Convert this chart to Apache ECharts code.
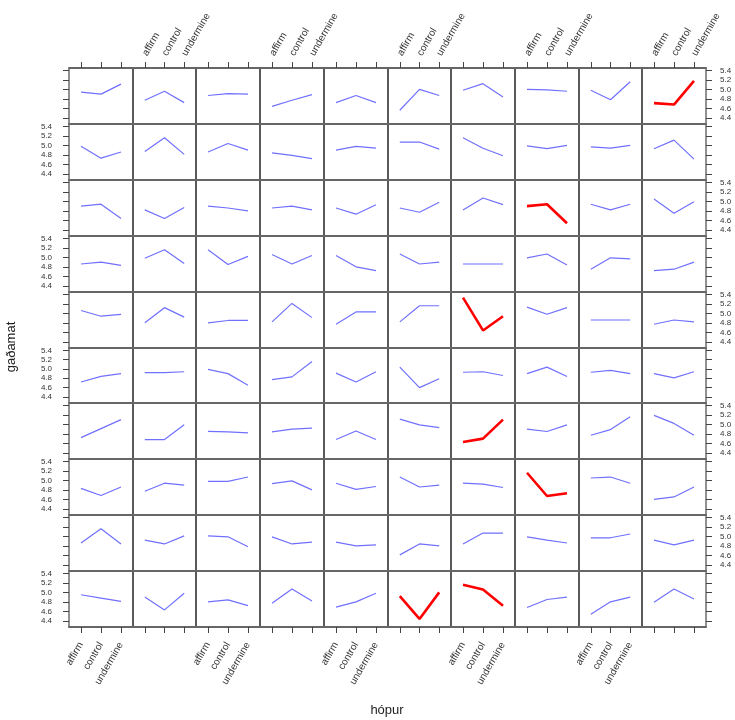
<!DOCTYPE html>
<html><head><meta charset="utf-8">
<script src="https://cdn.jsdelivr.net/npm/echarts@6/dist/echarts.min.js"></script>
<style>html,body{margin:0;padding:0;background:#fff}#c{width:735px;height:720px}</style>
</head><body><div id="c"></div>
<script>
const categories = ['affirm', 'control', 'undermine'];
const yTicks = [4.4, 4.6, 4.8, 5.0, 5.2, 5.4];
const xTitle = 'hópur';
const yTitle = 'gaðamat';

// Panels in display order, top row first; each panel = [affirm, control, undermine]
const row1 = [[4.94,4.90,5.11],[4.77,4.96,4.72],[4.87,4.91,4.90],[4.64,4.77,4.89],[4.72,4.87,4.72],[4.56,5.00,4.87],[4.98,5.12,4.84],[5.00,4.99,4.96],[4.98,4.78,5.16],[4.71,4.68,5.18]];
const row2 = [[4.98,4.73,4.86],[4.87,5.16,4.81],[4.86,5.04,4.90],[4.84,4.79,4.72],[4.90,4.98,4.94],[5.07,5.07,4.92],[5.16,4.94,4.78],[4.99,4.93,5.00],[4.97,4.94,5.00],[4.93,5.11,4.71]];
const row3 = [[4.90,4.94,4.64],[4.82,4.64,4.87],[4.90,4.86,4.80],[4.86,4.90,4.82],[4.86,4.73,4.93],[4.86,4.77,4.98],[4.82,5.07,4.93],[4.90,4.94,4.54],[4.94,4.82,4.94],[5.05,4.75,4.99]];
const row4 = [[4.86,4.90,4.83],[4.98,5.16,4.87],[5.16,4.85,5.02],[5.06,4.86,5.04],[5.04,4.80,4.72],[5.07,4.86,4.90],[4.86,4.86,4.86],[4.99,5.07,4.84],[4.75,4.99,4.97],[4.72,4.75,4.90]];
const row5 = [[5.06,4.94,4.98],[4.80,5.12,4.92],[4.80,4.85,4.85],[4.82,5.21,4.91],[4.77,5.03,5.03],[4.82,5.16,5.16],[5.33,4.64,4.94],[5.13,4.98,5.12],[4.86,4.86,4.86],[4.77,4.86,4.82]];
const row6 = [[4.72,4.84,4.90],[4.92,4.92,4.94],[4.99,4.90,4.65],[4.77,4.83,5.16],[4.91,4.72,4.94],[5.04,4.60,4.79],[4.93,4.94,4.86],[4.90,5.04,4.84],[4.93,4.97,4.90],[4.90,4.81,4.94]];
const row7 = [[4.72,4.91,5.10],[4.68,4.68,4.99],[4.85,4.84,4.82],[4.84,4.90,4.92],[4.68,4.86,4.68],[5.11,4.99,4.93],[4.63,4.70,5.10],[4.90,4.85,4.99],[4.77,4.89,5.16],[5.19,5.02,4.77]];
const row8 = [[4.83,4.68,4.86],[4.77,4.94,4.90],[4.98,4.98,5.07],[4.93,4.99,4.80],[4.94,4.81,4.87],[5.07,4.86,4.90],[4.94,4.92,4.85],[5.16,4.67,4.73],[5.05,5.07,4.94],[4.60,4.65,4.86]];
const row9 = [[4.86,5.16,4.84],[4.92,4.84,5.01],[5.01,4.99,4.78],[4.99,4.84,4.88],[4.88,4.80,4.82],[4.61,4.84,4.80],[4.84,5.07,5.07],[4.99,4.92,4.86],[4.97,4.97,5.05],[4.92,4.82,4.92]];
const row10 = [[4.95,4.88,4.81],[4.90,4.63,4.98],[4.80,4.84,4.72],[4.77,5.07,4.82],[4.69,4.80,4.98],[4.92,4.44,5.00],[5.16,5.06,4.72],[4.68,4.85,4.90],[4.54,4.80,4.90],[4.79,5.07,4.86]];
// highlighted panels [row, col] (0-based, top-left origin)
const highlighted = [[0,9],[2,7],[4,6],[6,6],[7,7],[9,5],[9,6]];

const rows = [row1,row2,row3,row4,row5,row6,row7,row8,row9,row10];
const FONT = '"Liberation Sans", Arial, Helvetica, sans-serif';
const colX = c => Math.round(69 + c * 63.7);
const rowY = r => Math.round(68 + r * 55.9);
const isHi = (r, c) => highlighted.some(h => h[0] === r && h[1] === c);

function xCfg(gi, pos, showTicks, showLabels) {
  return {
    gridIndex: gi, type: 'value', position: pos, min: 0.4, max: 3.6,
    axisLine: { show: true, lineStyle: { color: '#666', width: 2 } },
    axisTick: { show: showTicks, customValues: [1, 2, 3], length: 6, lineStyle: { color: '#444', width: 1 } },
    axisLabel: { show: showTicks && showLabels, customValues: [1, 2, 3],
      formatter: v => categories[Math.round(v) - 1], rotate: pos === 'top' ? -60 : 60, fontSize: 10,
      color: '#333', margin: pos === 'top' ? 13 : 16, fontFamily: FONT },
    splitLine: { show: false }
  };
}
function yCfg(gi, pos, showTicks, showLabels) {
  return {
    gridIndex: gi, type: 'value', position: pos, min: 4.27, max: 5.45,
    axisLine: { show: false },
    axisTick: { show: showTicks, customValues: yTicks, length: 6, lineStyle: { color: '#444', width: 1 } },
    axisLabel: { show: showTicks && showLabels, customValues: yTicks,
      formatter: v => v.toFixed(1), fontSize: 8, color: '#333',
      margin: pos === 'left' ? 17 : 14, fontFamily: FONT },
    splitLine: { show: false }
  };
}

const grid = [], xAxis = [], yAxis = [], series = [];
for (let r = 0; r < 10; r++) {
  for (let c = 0; c < 10; c++) {
    const gi = grid.length;
    grid.push({ left: colX(c), top: rowY(r), width: colX(c + 1) - colX(c), height: rowY(r + 1) - rowY(r),
      show: true, borderColor: '#222', borderWidth: 1, backgroundColor: 'transparent' });
    const xi = xAxis.length;
    xAxis.push(xCfg(gi, 'bottom', r === 9, c % 2 === 0));
    if (r === 0) xAxis.push(xCfg(gi, 'top', true, c % 2 === 1));
    const yi = yAxis.length;
    yAxis.push(yCfg(gi, 'left', c === 0, r % 2 === 1));
    if (c === 9) yAxis.push(yCfg(gi, 'right', true, r % 2 === 0));
    const hi = isHi(r, c);
    series.push({
      type: 'line', xAxisIndex: xi, yAxisIndex: yi, silent: true, symbol: 'none',
      data: categories.map((k, j) => [j + 1, rows[r][c][j]]),
      lineStyle: { color: hi ? '#ff0000' : '#7070ff', width: hi ? 2.6 : 1.2 },
      z: hi ? 3 : 2
    });
  }
}

const chart = echarts.init(document.getElementById('c'), null, { renderer: 'canvas' });
chart.setOption({
  animation: false,
  backgroundColor: '#fff',
  grid, xAxis, yAxis, series,
  graphic: [
    { type: 'text', x: 11, y: 347, rotation: Math.PI / 2,
      style: { text: yTitle, font: '13px ' + FONT, fill: '#222', align: 'center', verticalAlign: 'middle' } },
    { type: 'text', x: 387, y: 710,
      style: { text: xTitle, font: '13px ' + FONT, fill: '#222', align: 'center', verticalAlign: 'middle' } }
  ]
});
</script></body></html>
